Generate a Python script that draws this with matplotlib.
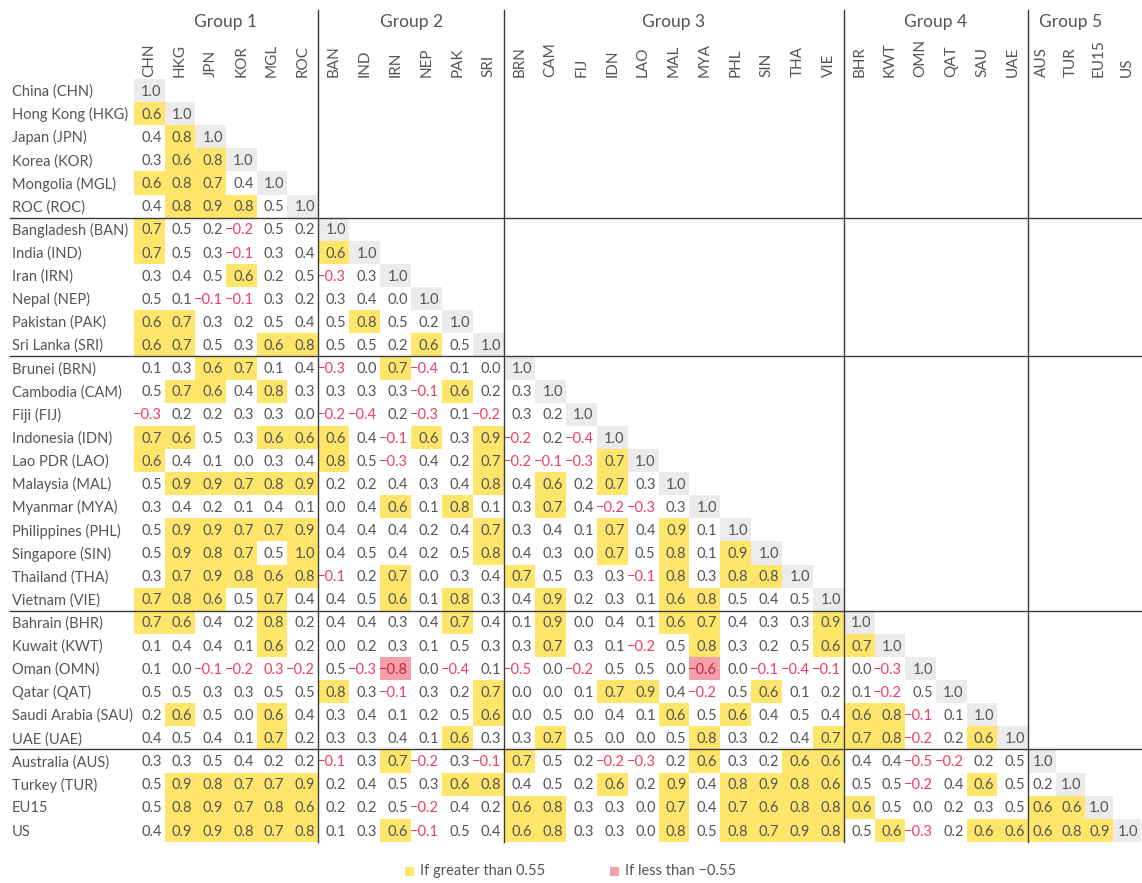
import numpy as np
import matplotlib.pyplot as plt
from matplotlib.patches import Rectangle

plt.rcParams['font.family'] = ['Lato', 'DejaVu Sans']

# column codes and row labels
codes = ['CHN', 'HKG', 'JPN', 'KOR', 'MGL', 'ROC',
         'BAN', 'IND', 'IRN', 'NEP', 'PAK', 'SRI',
         'BRN', 'CAM', 'FIJ', 'IDN', 'LAO', 'MAL', 'MYA', 'PHL', 'SIN', 'THA', 'VIE',
         'BHR', 'KWT', 'OMN', 'QAT', 'SAU', 'UAE',
         'AUS', 'TUR', 'EU15', 'US']
row_labels = ['China (CHN)', 'Hong Kong (HKG)', 'Japan (JPN)', 'Korea (KOR)',
              'Mongolia (MGL)', 'ROC (ROC)', 'Bangladesh (BAN)', 'India (IND)',
              'Iran (IRN)', 'Nepal (NEP)', 'Pakistan (PAK)', 'Sri Lanka (SRI)',
              'Brunei (BRN)', 'Cambodia (CAM)', 'Fiji (FIJ)', 'Indonesia (IDN)',
              'Lao PDR (LAO)', 'Malaysia (MAL)', 'Myanmar (MYA)', 'Philippines (PHL)',
              'Singapore (SIN)', 'Thailand (THA)', 'Vietnam (VIE)', 'Bahrain (BHR)',
              'Kuwait (KWT)', 'Oman (OMN)', 'Qatar (QAT)', 'Saudi Arabia (SAU)',
              'UAE (UAE)', 'Australia (AUS)', 'Turkey (TUR)', 'EU15', 'US']
group_names = ['Group 1', 'Group 2', 'Group 3', 'Group 4', 'Group 5']
group_sizes = [6, 6, 11, 6, 4]

# lower-triangular correlation values, one list per row
corr = [
    [1.0],
    [0.6, 1.0],
    [0.4, 0.8, 1.0],
    [0.3, 0.6, 0.8, 1.0],
    [0.6, 0.8, 0.7, 0.4, 1.0],
    [0.4, 0.8, 0.9, 0.8, 0.5, 1.0],
    [0.7, 0.5, 0.2, -0.2, 0.5, 0.2, 1.0],
    [0.7, 0.5, 0.3, -0.1, 0.3, 0.4, 0.6, 1.0],
    [0.3, 0.4, 0.5, 0.6, 0.2, 0.5, -0.3, 0.3, 1.0],
    [0.5, 0.1, -0.1, -0.1, 0.3, 0.2, 0.3, 0.4, 0.0, 1.0],
    [0.6, 0.7, 0.3, 0.2, 0.5, 0.4, 0.5, 0.8, 0.5, 0.2, 1.0],
    [0.6, 0.7, 0.5, 0.3, 0.6, 0.8, 0.5, 0.5, 0.2, 0.6, 0.5, 1.0],
    [0.1, 0.3, 0.6, 0.7, 0.1, 0.4, -0.3, 0.0, 0.7, -0.4, 0.1, 0.0, 1.0],
    [0.5, 0.7, 0.6, 0.4, 0.8, 0.3, 0.3, 0.3, 0.3, -0.1, 0.6, 0.2, 0.3, 1.0],
    [-0.3, 0.2, 0.2, 0.3, 0.3, 0.0, -0.2, -0.4, 0.2, -0.3, 0.1, -0.2, 0.3, 0.2, 1.0],
    [0.7, 0.6, 0.5, 0.3, 0.6, 0.6, 0.6, 0.4, -0.1, 0.6, 0.3, 0.9, -0.2, 0.2, -0.4, 1.0],
    [0.6, 0.4, 0.1, 0.0, 0.3, 0.4, 0.8, 0.5, -0.3, 0.4, 0.2, 0.7, -0.2, -0.1, -0.3, 0.7, 1.0],
    [0.5, 0.9, 0.9, 0.7, 0.8, 0.9, 0.2, 0.2, 0.4, 0.3, 0.4, 0.8, 0.4, 0.6, 0.2, 0.7, 0.3, 1.0],
    [0.3, 0.4, 0.2, 0.1, 0.4, 0.1, 0.0, 0.4, 0.6, 0.1, 0.8, 0.1, 0.3, 0.7, 0.4, -0.2, -0.3, 0.3, 1.0],
    [0.5, 0.9, 0.9, 0.7, 0.7, 0.9, 0.4, 0.4, 0.4, 0.2, 0.4, 0.7, 0.3, 0.4, 0.1, 0.7, 0.4, 0.9, 0.1, 1.0],
    [0.5, 0.9, 0.8, 0.7, 0.5, 1.0, 0.4, 0.5, 0.4, 0.2, 0.5, 0.8, 0.4, 0.3, 0.0, 0.7, 0.5, 0.8, 0.1, 0.9, 1.0],
    [0.3, 0.7, 0.9, 0.8, 0.6, 0.8, -0.1, 0.2, 0.7, 0.0, 0.3, 0.4, 0.7, 0.5, 0.3, 0.3, -0.1, 0.8, 0.3, 0.8, 0.8, 1.0],
    [0.7, 0.8, 0.6, 0.5, 0.7, 0.4, 0.4, 0.5, 0.6, 0.1, 0.8, 0.3, 0.4, 0.9, 0.2, 0.3, 0.1, 0.6, 0.8, 0.5, 0.4, 0.5, 1.0],
    [0.7, 0.6, 0.4, 0.2, 0.8, 0.2, 0.4, 0.4, 0.3, 0.4, 0.7, 0.4, 0.1, 0.9, 0.0, 0.4, 0.1, 0.6, 0.7, 0.4, 0.3, 0.3, 0.9, 1.0],
    [0.1, 0.4, 0.4, 0.1, 0.6, 0.2, 0.0, 0.2, 0.3, 0.1, 0.5, 0.3, 0.3, 0.7, 0.3, 0.1, -0.2, 0.5, 0.8, 0.3, 0.2, 0.5, 0.6, 0.7, 1.0],
    [0.1, 0.0, -0.1, -0.2, 0.3, -0.2, 0.5, -0.3, -0.8, 0.0, -0.4, 0.1, -0.5, 0.0, -0.2, 0.5, 0.5, 0.0, -0.6, 0.0, -0.1, -0.4, -0.1, 0.0, -0.3, 1.0],
    [0.5, 0.5, 0.3, 0.3, 0.5, 0.5, 0.8, 0.3, -0.1, 0.3, 0.2, 0.7, 0.0, 0.0, 0.1, 0.7, 0.9, 0.4, -0.2, 0.5, 0.6, 0.1, 0.2, 0.1, -0.2, 0.5, 1.0],
    [0.2, 0.6, 0.5, 0.0, 0.6, 0.4, 0.3, 0.4, 0.1, 0.2, 0.5, 0.6, 0.0, 0.5, 0.0, 0.4, 0.1, 0.6, 0.5, 0.6, 0.4, 0.5, 0.4, 0.6, 0.8, -0.1, 0.1, 1.0],
    [0.4, 0.5, 0.4, 0.1, 0.7, 0.2, 0.3, 0.3, 0.4, 0.1, 0.6, 0.3, 0.3, 0.7, 0.5, 0.0, 0.0, 0.5, 0.8, 0.3, 0.2, 0.4, 0.7, 0.7, 0.8, -0.2, 0.2, 0.6, 1.0],
    [0.3, 0.3, 0.5, 0.4, 0.2, 0.2, -0.1, 0.3, 0.7, -0.2, 0.3, -0.1, 0.7, 0.5, 0.2, -0.2, -0.3, 0.2, 0.6, 0.3, 0.2, 0.6, 0.6, 0.4, 0.4, -0.5, -0.2, 0.2, 0.5, 1.0],
    [0.5, 0.9, 0.8, 0.7, 0.7, 0.9, 0.2, 0.4, 0.5, 0.3, 0.6, 0.8, 0.4, 0.5, 0.2, 0.6, 0.2, 0.9, 0.4, 0.8, 0.9, 0.8, 0.6, 0.5, 0.5, -0.2, 0.4, 0.6, 0.5, 0.2, 1.0],
    [0.5, 0.8, 0.9, 0.7, 0.8, 0.6, 0.2, 0.2, 0.5, -0.2, 0.4, 0.2, 0.6, 0.8, 0.3, 0.3, 0.0, 0.7, 0.4, 0.7, 0.6, 0.8, 0.8, 0.6, 0.5, 0.0, 0.2, 0.3, 0.5, 0.6, 0.6, 1.0],
    [0.4, 0.9, 0.9, 0.8, 0.7, 0.8, 0.1, 0.3, 0.6, -0.1, 0.5, 0.4, 0.6, 0.8, 0.3, 0.3, 0.0, 0.8, 0.5, 0.8, 0.7, 0.9, 0.8, 0.5, 0.6, -0.3, 0.2, 0.6, 0.6, 0.6, 0.8, 0.9, 1.0],
]
# cell printed in red although its value is positive (as in the source)
red_text_cells = [('OMN', 'MGL')]

yellow = '#FFE66B'
pink = '#F3A0AA'
grey = '#EBEBEB'
text_col = '#555555'
red_col = '#EE3F62'
dark_red = '#C8243F'
line_col = '#3a3a3a'

# layout in pixels
W, H = 1142, 883
x0_px, y0_px = 134, 79
cell_h = 23.12
group_px = [184, 186, 340, 184, 113]   # pixel width of each column group
n = len(codes)

# column edges (x in pixels from the grid's left edge)
edges = [0.0]
for size, width in zip(group_sizes, group_px):
    start = edges[-1]
    edges += list(start + np.arange(1, size + 1) * width / size)
edges = np.array(edges)
bounds = np.cumsum([0] + group_sizes)

fig = plt.figure(figsize=(W / 100, H / 100), dpi=100)
ax = fig.add_axes([x0_px / W, 1 - (y0_px + n * cell_h) / H,
                   (W - x0_px) / W, n * cell_h / H])
xmax = W - x0_px
ax.set_xlim(0, xmax)
ax.set_ylim(n, 0)
ax.axis('off')

fs = 10.5
for i, row in enumerate(corr):
    for j, v in enumerate(row):
        if i == j:
            bg = grey
        elif v > 0.55:
            bg = yellow
        elif v < -0.55:
            bg = pink
        else:
            bg = None
        if bg:
            ax.add_patch(Rectangle((edges[j], i), edges[j + 1] - edges[j], 1,
                                   facecolor=bg, edgecolor='none', zorder=1))
        if v < -0.55:
            col = dark_red
        elif v < 0 or (codes[i], codes[j]) in red_text_cells:
            col = red_col
        else:
            col = text_col
        txt = ('\u2212' if v < 0 else '') + f'{abs(v):.1f}'
        ax.text(edges[j + 1] - 3, i + 0.55, txt, ha='right', va='center',
                fontsize=fs, color=col, zorder=3)

# row labels
for i, lab in enumerate(row_labels):
    ax.text(12 - x0_px, i + 0.55, lab, ha='left', va='center', fontsize=fs,
            color=text_col, clip_on=False)

# column headers
for j, c in enumerate(codes):
    ax.text((edges[j] + edges[j + 1]) / 2, -0.1, c, rotation=90, ha='center',
            va='bottom', fontsize=11, color=text_col, clip_on=False)

# group headers and separators
top_y = (10 - y0_px) / cell_h
grp_y = (22 - y0_px) / cell_h
for k, name in enumerate(group_names):
    a = edges[bounds[k]]
    # last group: its final column runs off the page, centre on the rest
    b = edges[bounds[k + 1]] if k < len(group_names) - 1 else edges[bounds[k + 1] - 1]
    ax.text((a + b) / 2, grp_y, name, ha='center', va='center',
            fontsize=12.5, color=text_col, clip_on=False)
for b in bounds[1:-1]:
    xb = edges[b]
    ax.plot([xb, xb], [top_y, n], color=line_col, lw=1, clip_on=False, zorder=4)
    ax.plot([10 - x0_px, xmax], [b, b], color=line_col, lw=1, clip_on=False, zorder=4)

# legend
leg_y = (871 - y0_px) / cell_h
sq_h = 9 / cell_h
for px, colr, lab in [(405, yellow, 'If greater than 0.55'),
                      (610, pink, 'If less than \u22120.55')]:
    lx = px - x0_px
    ax.add_patch(Rectangle((lx, leg_y - sq_h / 2), 9, sq_h, facecolor=colr,
                           edgecolor='none', clip_on=False))
    ax.text(lx + 15, leg_y, lab, ha='left', va='center', fontsize=fs,
            color=text_col, clip_on=False)

fig.savefig('out.png', dpi=100)
